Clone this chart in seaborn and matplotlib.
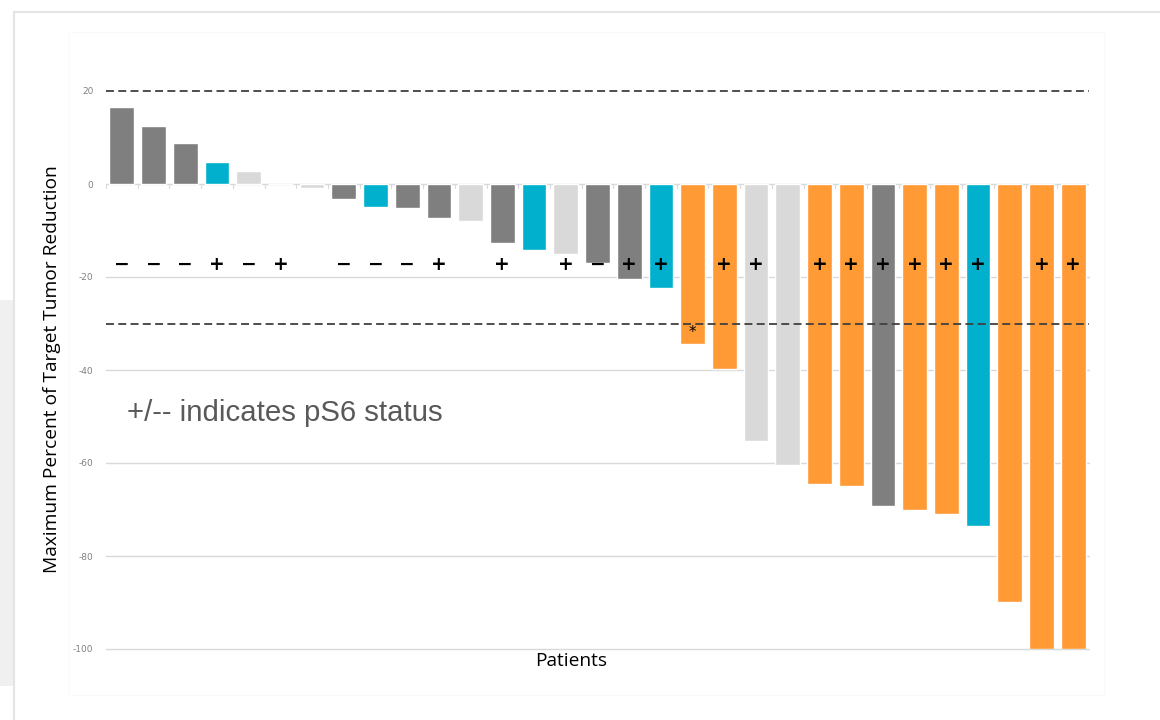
import pandas as pd
import matplotlib.pyplot as plt
import seaborn as sns
from matplotlib.patches import Rectangle
from matplotlib.lines import Line2D

# waterfall data, one bar per patient
patients = [f"P{i}" for i in range(1, 32)]
reduction = [16.5, 12.5, 8.8, 4.8, 2.8, 0.0, -0.8, -3.2, -4.9, -5.1,
             -7.4, -8.0, -12.7, -14.2, -15.0, -17.0, -20.4, -22.3, -34.5, -39.8,
             -55.3, -60.4, -64.5, -65.0, -69.2, -70.1, -71.0, -73.5, -89.8, -100.0,
             -100.0]
group = ["dark", "dark", "dark", "cyan", "light", "light", "light", "dark", "cyan", "dark",
         "dark", "light", "dark", "cyan", "light", "dark", "dark", "cyan", "orange", "orange",
         "light", "light", "orange", "orange", "dark", "orange", "orange", "cyan", "orange", "orange",
         "orange"]
ps6 = ["-", "-", "-", "+", "-", "+", "", "-", "-", "-",
       "+", "", "+", "", "+", "-", "+", "+", "", "+",
       "+", "", "+", "+", "+", "+", "+", "+", "", "+",
       "+"]
y_ticks = [20, 0, -20, -40, -60, -80, -100]
ref_lines = [20, -30]

palette = {"dark": "#7f7f7f", "cyan": "#00b0cc", "light": "#d9d9d9", "orange": "#ff9a35"}

df = pd.DataFrame({"patient": patients, "reduction": reduction, "group": group})

sns.set_theme(style="white")
fig = plt.figure(figsize=(11.6, 7.2), dpi=100)

# screenshot card background
fig.add_artist(Rectangle((0, 1 - 686 / 720), 14 / 1160, (686 - 300) / 720,
                         transform=fig.transFigure, color="#f0f0f0", lw=0, zorder=0))
fig.add_artist(Line2D([14 / 1160, 1], [1 - 12 / 720, 1 - 12 / 720], transform=fig.transFigure,
                      color="#e4e4e4", lw=1.5, zorder=1))
fig.add_artist(Line2D([14 / 1160, 14 / 1160], [0, 1 - 12 / 720], transform=fig.transFigure,
                      color="#e4e4e4", lw=1.5, zorder=1))
fig.add_artist(Rectangle((69 / 1160, 1 - 695 / 720), (1104 - 69) / 1160, (695 - 32) / 720,
                         transform=fig.transFigure, fill=False, ec="#fafafa", lw=0.8, zorder=1))

ax = fig.add_axes([106 / 1160, 1 - 649 / 720, 983 / 1160, 558 / 720])

sns.barplot(data=df, x="patient", y="reduction", hue="group", palette=palette,
            order=patients, dodge=False, width=0.78, saturation=1, legend=False, ax=ax, zorder=3)

ax.set_xlim(-0.5, len(patients) - 0.5)
ax.set_ylim(-100, 20)
ax.set_yticks(y_ticks)
ax.set_yticklabels([str(t) for t in y_ticks], fontsize=6.5, color="#808080")
ax.tick_params(axis="y", length=0, pad=9)

# gridlines
for t in y_ticks:
    if t not in (0, 20):
        ax.axhline(t, color="#d9d9d9", lw=1.0, zorder=1, clip_on=False)
ax.axhline(0, color="#d9d9d9", lw=1.0, zorder=2)

# category ticks on the zero line
ax.set_xticks([i + 0.5 for i in range(len(patients) - 1)])
ax.set_xticklabels([])
ax.tick_params(axis="x", length=0)
for i in range(len(patients) + 1):
    ax.plot([i - 0.5, i - 0.5], [0, -0.8], color="#d9d9d9", lw=0.8, zorder=2)

for s in ax.spines.values():
    s.set_visible(False)

for r in ref_lines:
    ax.axhline(r, color="#404040", lw=1.3, linestyle=(0, (4.4, 2.4)), zorder=4, clip_on=False)

# pS6 status marks
for i, s in enumerate(ps6):
    if s:
        ax.text(i, -17.3, "+" if s == "+" else "\u2212", ha="center", va="center",
                fontsize=13.5, fontweight="bold", color="black", zorder=5,
                family="DejaVu Sans")

ax.text(patients.index("P19"), -32.0, "*", ha="center", va="center", fontsize=11,
        color="black", zorder=5)

ax.text(0.16, -49.2, "+/-- indicates pS6 status", ha="left", va="center",
        fontsize=21.2, color="#595959", family="Liberation Sans", zorder=5)

ax.set_xlabel("")
ax.set_ylabel("")
fig.text(52 / 1160, 1 - 369 / 720, "Maximum Percent of Target Tumor Reduction",
         rotation=90, ha="center", va="center", fontsize=13.8, color="black",
         family="Open Sans")
fig.text(571 / 1160, 1 - 661 / 720, "Patients", ha="center", va="center",
         fontsize=13.8, color="black", family="Open Sans")

plt.savefig("out.png", dpi=100)
